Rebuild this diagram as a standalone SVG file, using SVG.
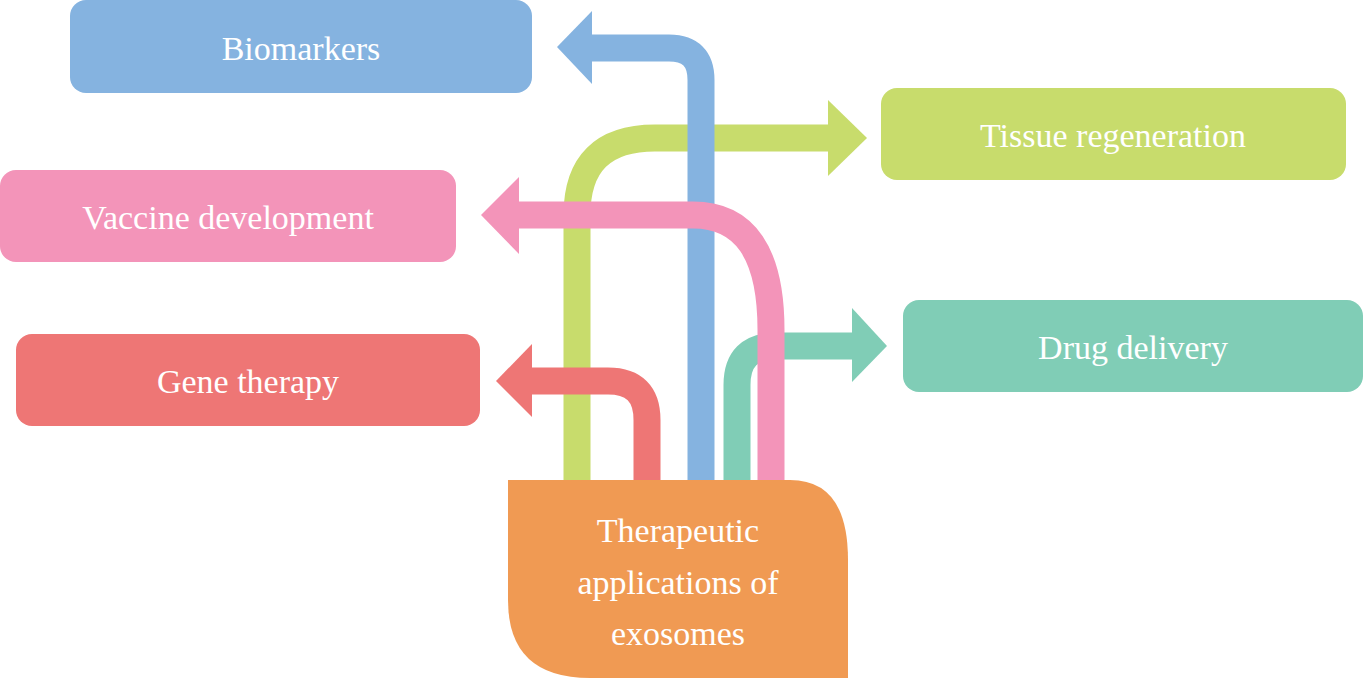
<svg xmlns="http://www.w3.org/2000/svg" width="1364" height="678" viewBox="0 0 1364 678">
<style>
.t{font-family:"Liberation Serif","DejaVu Serif",serif;font-size:34px;fill:#fff;text-anchor:middle}
.c{fill:none;stroke-width:27}
</style>
<rect width="1364" height="678" fill="#fff"/>
<g id="connectors">
<path class="c" stroke="#c8dc6c" d="M577 480 V215 Q577 138 655 138 H830"/>
<polygon fill="#c8dc6c" points="828,100 867,138 828,176"/>
<path class="c" stroke="#ee7675" d="M647 480 V420 Q647 381 608 381 H530"/>
<polygon fill="#ee7675" points="532,344 496,381 532,417"/>
<path class="c" stroke="#80cdb6" d="M737 480 V385 Q737 346 776 346 H855"/>
<polygon fill="#80cdb6" points="852,308 887,346 852,382"/>
<path class="c" stroke="#85b3e0" d="M701 480 V80 Q701 48 669 48 H590"/>
<polygon fill="#85b3e0" points="592,11 557,47 592,84"/>
<path class="c" stroke="#f394b9" d="M771 480 V330 Q771 215 693 215 H515"/>
<polygon fill="#f394b9" points="519,177 481,215 519,254"/>
</g>
<g id="biomarkers"><rect x="70" y="0" width="462" height="93" rx="16" fill="#85b3e0"/><text class="t" x="301" y="60">Biomarkers</text></g>
<g id="tissue"><rect x="881" y="88" width="465" height="92" rx="16" fill="#c8dc6c"/><text class="t" x="1113" y="147">Tissue regeneration</text></g>
<g id="vaccine"><rect x="0" y="170" width="456" height="92" rx="16" fill="#f394b9"/><text class="t" x="228" y="229">Vaccine development</text></g>
<g id="drug"><rect x="903" y="300" width="460" height="92" rx="16" fill="#80cdb6"/><text class="t" x="1133" y="359">Drug delivery</text></g>
<g id="gene"><rect x="16" y="334" width="464" height="92" rx="16" fill="#ee7675"/><text class="t" x="248" y="393">Gene therapy</text></g>
<g id="center"><path fill="#f09a53" d="M508 480 H790 Q848 480 848 560 V678 H590 Q508 678 508 600 Z"/>
<text class="t" x="678" y="542">Therapeutic</text><text class="t" x="678" y="594">applications of</text><text class="t" x="678" y="645">exosomes</text></g>
</svg>
